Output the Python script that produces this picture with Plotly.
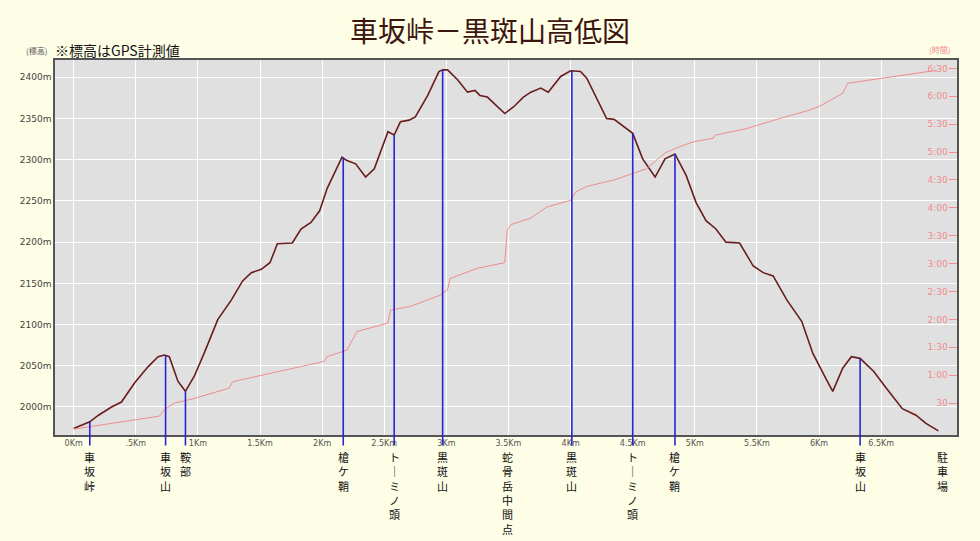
import plotly.graph_objects as go

title_text = "車坂峠－黒斑山高低図"
note_text = "※標高はGPS計測値"

# elevation profile (distance km, elevation m)
dist_km = [0.00, 0.13, 0.20, 0.305, 0.385, 0.49, 0.60, 0.68, 0.73, 0.77, 0.84, 0.90,
           0.97, 1.05, 1.16, 1.27, 1.36, 1.43, 1.51, 1.58, 1.64, 1.76, 1.83, 1.91,
           1.98, 2.04, 2.16, 2.20, 2.27, 2.35, 2.42, 2.47, 2.53, 2.58, 2.63, 2.70,
           2.75, 2.85, 2.94, 2.97, 3.01, 3.09, 3.17, 3.23, 3.27, 3.33, 3.41, 3.47,
           3.54, 3.62, 3.68, 3.76, 3.82, 3.92, 4.00, 4.08, 4.13, 4.21, 4.29, 4.35,
           4.41, 4.50, 4.58, 4.68, 4.76, 4.84, 4.93, 5.01, 5.09, 5.17, 5.25, 5.36,
           5.47, 5.55, 5.63, 5.74, 5.86, 5.95, 6.06, 6.11, 6.19, 6.26, 6.33, 6.44,
           6.54, 6.67, 6.78, 6.86, 6.96]
elev_m = [1974, 1982, 1990, 2000, 2006, 2029, 2049, 2061, 2063, 2061, 2031, 2019,
          2037, 2065, 2106, 2130, 2153, 2163, 2167, 2175, 2198, 2199, 2216, 2224,
          2238, 2265, 2303, 2299, 2295, 2279, 2289, 2309, 2334, 2330, 2346, 2348,
          2352, 2378, 2407, 2409, 2409, 2397, 2382, 2384, 2378, 2376, 2364, 2356,
          2364, 2376, 2382, 2387, 2382, 2401, 2408, 2407, 2399, 2374, 2350, 2349,
          2342, 2332, 2301, 2279, 2301, 2307, 2281, 2248, 2226, 2216, 2200, 2199,
          2171, 2163, 2159, 2130, 2104, 2065, 2033, 2019, 2047, 2061, 2059, 2043,
          2023, 1998, 1990, 1980, 1971]

# cumulative walking time (distance km, minutes)
time_km = [0.00, 0.305, 0.69, 0.73, 0.81, 0.97, 1.25, 1.28, 1.51, 2.02, 2.04, 2.20,
           2.28, 2.53, 2.55, 2.71, 2.95, 3.01, 3.03, 3.25, 3.47, 3.49, 3.52, 3.68,
           3.81, 4.00, 4.04, 4.13, 4.35, 4.61, 4.76, 4.88, 4.99, 5.15, 5.16, 5.41,
           5.68, 5.92, 6.00, 6.19, 6.23, 6.48, 6.86, 6.95]
time_min = [2, 8, 16, 23, 30, 35, 46, 53, 60, 75, 80, 87,
            107, 116, 130, 134, 146, 152, 164, 175, 181, 216, 222, 229,
            241, 248, 257, 263, 270, 282, 299, 306, 311, 315, 318, 325,
            336, 345, 349, 363, 374, 379, 386, 388]

x_tickvals = [0, 0.5, 1, 1.5, 2, 2.5, 3, 3.5, 4, 4.5, 5, 5.5, 6, 6.5, 7]
x_ticktext = ["0Km", ".5Km", "1Km", "1.5Km", "2Km", "2.5Km", "3Km", "3.5Km",
              "4Km", "4.5Km", "5Km", "5.5Km", "6Km", "6.5Km", "7Km"]
y_tickvals = [2000, 2050, 2100, 2150, 2200, 2250, 2300, 2350, 2400]
y_ticktext = ["2000m", "2050m", "2100m", "2150m", "2200m", "2250m", "2300m", "2350m", "2400m"]
t_tickvals = [30, 60, 90, 120, 150, 180, 210, 240, 270, 300, 330, 360, 390]
t_ticktext = ["30", "1:00", "1:30", "2:00", "2:30", "3:00", "3:30", "4:00",
              "4:30", "5:00", "5:30", "6:00", "6:30"]

# waypoints
marker_names = ["車坂峠", "車坂山", "鞍部", "槍ケ鞘", "ト｜ミノ頭", "黒斑山", "蛇骨岳中間点",
                "黒斑山", "ト｜ミノ頭", "槍ケ鞘", "車坂山", "駐車場"]
marker_km = [0.13, 0.74, 0.90, 2.17, 2.58, 2.97, 3.49, 4.01, 4.50, 4.84, 6.33, 6.99]
marker_elev = [1982, 2063, 2019, 2303, 2330, 2409, None, 2408, 2332, 2307, 2059, None]

BG = "#FEFDE6"
PINK = "#F08C8C"
BLUE = "#2626D6"
MAROON = "#6A1C1C"

fig = go.Figure()
fig.add_trace(go.Scatter(x=dist_km, y=elev_m, mode="lines",
                         line=dict(color=MAROON, width=1.6), showlegend=False,
                         hoverinfo="skip"))
fig.add_trace(go.Scatter(x=time_km, y=time_min, mode="lines", yaxis="y2",
                         line=dict(color=PINK, width=1), showlegend=False,
                         hoverinfo="skip"))

shapes = []
annotations = []
for name, km, el in zip(marker_names, marker_km, marker_elev):
    if el is not None:
        shapes.append(dict(type="line", xref="x", yref="y", x0=km, x1=km,
                           y0=1900, y1=el, line=dict(color=BLUE, width=1.6)))
        shapes.append(dict(type="line", xref="x", yref="paper", x0=km, x1=km,
                           y0=0, y1=-0.028, line=dict(color=BLUE, width=1.6)))
    annotations.append(dict(x=km, y=0, xref="x", yref="paper",
                            text="<br>".join(list(name)),
                            showarrow=False, xanchor="center", yanchor="top",
                            yshift=-12,
                            font=dict(size=11, color="#111111",
                                      family="Noto Sans CJK JP")))

annotations.append(dict(x=0, y=1, xref="paper", yref="paper", text="(標高)",
                        showarrow=False, xanchor="right", yanchor="middle",
                        xshift=-6, yshift=10,
                        font=dict(size=8, color="#555555", family="Noto Sans CJK JP")))
annotations.append(dict(x=0, y=1, xref="paper", yref="paper", text=note_text,
                        showarrow=False, xanchor="left", yanchor="middle",
                        xshift=-2, yshift=10,
                        font=dict(size=14, color="#111111", family="Noto Sans CJK JP")))
annotations.append(dict(x=1, y=1, xref="paper", yref="paper", text="(時間)",
                        showarrow=False, xanchor="right", yanchor="middle",
                        xshift=-5, yshift=11,
                        font=dict(size=8, color=PINK, family="Noto Sans CJK JP")))

fig.update_layout(
    width=980, height=541,
    margin=dict(l=45, r=31, t=52, b=114),
    paper_bgcolor=BG, plot_bgcolor="#E0E0E0",
    title=dict(text=title_text, x=490 / 980 - 8 / 980, xref="container", xanchor="center",
               y=1 - 24 / 541, yanchor="middle",
               font=dict(size=28, color="#3C1510", family="Noto Sans CJK JP")),
    xaxis=dict(range=[-0.15, 7.11], tickvals=x_tickvals, ticktext=x_ticktext,
               tickfont=dict(size=8, color="#555555", family="DejaVu Sans"),
               showgrid=True, gridcolor="#FFFFFF", gridwidth=1, zeroline=False,
               showline=True, linecolor="#555555", linewidth=1.5, mirror=True,
               ticks=""),
    yaxis=dict(range=[1966, 2421], tickvals=y_tickvals, ticktext=y_ticktext,
               tickfont=dict(size=9, color="#444444", family="DejaVu Sans"),
               showgrid=True, gridcolor="#FFFFFF", gridwidth=1, zeroline=False,
               showline=True, linecolor="#555555", linewidth=1.5, mirror=True,
               ticks=""),
    yaxis2=dict(overlaying="y", side="right", range=[-4.3, 399],
                tickvals=t_tickvals, ticktext=t_ticktext,
                tickfont=dict(size=9, color=PINK, family="DejaVu Sans"),
                ticklabelposition="inside", ticks="inside", ticklen=8,
                tickcolor=PINK, tickwidth=1, showgrid=False, zeroline=False,
                showline=False),
    shapes=shapes, annotations=annotations,
)

fig.write_html("out.html",
               post_script="document.body.style.background='" + BG + "';")
